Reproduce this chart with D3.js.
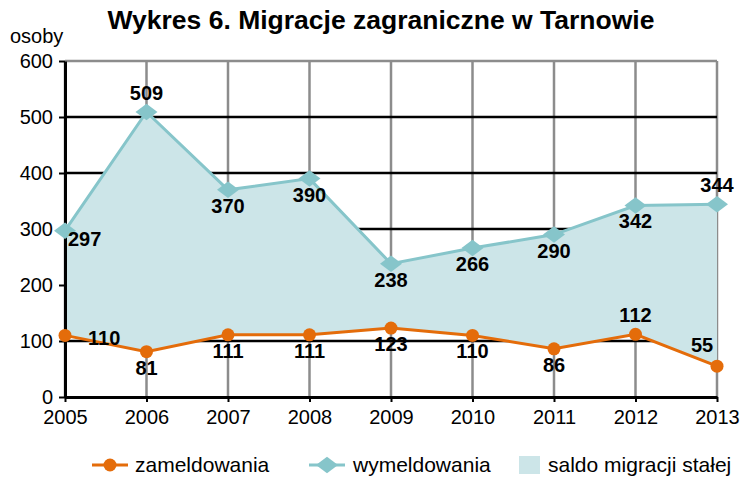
<!DOCTYPE html>
<html>
<head>
<meta charset="utf-8">
<script src="https://cdn.jsdelivr.net/npm/d3@7"></script>
<style>
    body { margin: 0; background: #fff; }
    text { font-family: "Liberation Sans", Arial, sans-serif; }
</style>
</head>
<body>
<script>

//Chart data
var years = [2005, 2006, 2007, 2008, 2009, 2010, 2011, 2012, 2013];
var zameldowania = [110, 81, 111, 111, 123, 110, 86, 112, 55];
var wymeldowania = [297, 509, 370, 390, 238, 266, 290, 342, 344];
var yTicks = [0, 100, 200, 300, 400, 500, 600];

//Where each data label sits: a = above, b = below, r = right, R = further right, l = above left
var zamPlace = ["R", "b", "b", "b", "b", "b", "b", "a", "l"];
var wymPlace = ["r", "a", "b", "b", "b", "b", "b", "b", "a"];

var w = 747;
var h = 479;

var orange = "#e46c0a";
var teal = "#86c5ca";
var fill = "#cce5e8";

//Set up scales
var x = d3.scaleLinear()
    .domain([2005, 2013])
    .range([65, 717]);

var y = d3.scaleLinear()
    .domain([0, 600])
    .range([397, 61]);

var svg = d3.select("body").append("svg")
    .attr("width", w)
    .attr("height", h);

//Title and unit
svg.append("text")
    .attr("x", 381)
    .attr("y", 29)
    .style("font-size", "26.5px")
    .style("font-weight", "bold")
    .style("text-anchor", "middle")
    .text("Wykres 6. Migracje zagraniczne w Tarnowie");

svg.append("text")
    .attr("x", 10)
    .attr("y", 43)
    .style("font-size", "20px")
    .text("osoby");

//Vertical grid lines (grey)
svg.selectAll(".vgrid")
    .data(years)
    .enter()
    .append("line")
    .attr("x1", function(d) { return x(d); })
    .attr("x2", function(d) { return x(d); })
    .attr("y1", y(600))
    .attr("y2", y(0))
    .style("stroke", "#8c8c8c")
    .style("stroke-width", 2.5);

//Horizontal grid lines (black, top one grey)
svg.selectAll(".hgrid")
    .data(yTicks.slice(1))
    .enter()
    .append("line")
    .attr("x1", x(2005))
    .attr("x2", x(2013))
    .attr("y1", function(d) { return y(d); })
    .attr("y2", function(d) { return y(d); })
    .style("stroke", function(d) { return d === 600 ? "#8c8c8c" : "#000"; })
    .style("stroke-width", 2.5);

//Band between the two series
var band = years.map(function(d, i) {
    return { year: d, lo: zameldowania[i], hi: wymeldowania[i] };
});

svg.append("path")
    .datum(band)
    .attr("d", d3.area()
        .x(function(d) { return x(d.year); })
        .y0(function(d) { return y(d.lo); })
        .y1(function(d) { return y(d.hi); }))
    .style("fill", fill);

//Axes
var yAxis = d3.axisLeft(y).tickValues(yTicks).tickSize(6).tickSizeOuter(0).tickPadding(6);
var xAxis = d3.axisBottom(x).tickValues(years).tickFormat(d3.format("d"))
    .tickSize(5).tickSizeOuter(0).tickPadding(8);

var gy = svg.append("g")
    .attr("transform", "translate(" + x(2005) + ",0)")
    .call(yAxis);

var gx = svg.append("g")
    .attr("transform", "translate(0," + y(0) + ")")
    .call(xAxis);

[gx, gy].forEach(function(g) {
    g.select(".domain").style("stroke", "#000").style("stroke-width", 3);
    g.selectAll(".tick line").style("stroke", "#000").style("stroke-width", 2);
    g.selectAll(".tick text")
        .style("font-size", "20px")
        .style("font-family", "Liberation Sans, Arial, sans-serif")
        .style("fill", "#000");
});

//Lines
var line = d3.line()
    .x(function(d, i) { return x(years[i]); })
    .y(function(d) { return y(d); });

svg.append("path")
    .datum(wymeldowania)
    .attr("d", line)
    .style("fill", "none")
    .style("stroke", teal)
    .style("stroke-width", 3);

svg.append("path")
    .datum(zameldowania)
    .attr("d", line)
    .style("fill", "none")
    .style("stroke", orange)
    .style("stroke-width", 3);

//Flat diamond marker, a bit wider than tall
var flatDiamond = {
    draw: function(ctx, size) {
        var a = Math.sqrt(size / 1.45);
        var bx = a, by = a * 0.75;
        ctx.moveTo(-bx, 0);
        ctx.lineTo(0, -by);
        ctx.lineTo(bx, 0);
        ctx.lineTo(0, by);
        ctx.closePath();
    }
};
var diamond = d3.symbol().type(flatDiamond).size(175);

//Markers
svg.selectAll(".wym")
    .data(wymeldowania)
    .enter()
    .append("path")
    .attr("d", diamond)
    .attr("transform", function(d, i) {
        return "translate(" + x(years[i]) + "," + y(d) + ")";
    })
    .style("fill", teal);

svg.selectAll(".zam")
    .data(zameldowania)
    .enter()
    .append("circle")
    .attr("cx", function(d, i) { return x(years[i]); })
    .attr("cy", function(d) { return y(d); })
    .attr("r", 6.5)
    .style("fill", orange);

//Data labels
function addLabels(values, place, cls) {
    svg.selectAll("." + cls)
        .data(values)
        .enter()
        .append("text")
        .attr("x", function(d, i) {
            var p = place[i];
            if (p === "r") return x(years[i]) + 3;
            if (p === "R") return x(years[i]) + 23;
            if (p === "l") return x(years[i]) - 15;
            return x(years[i]);
        })
        .attr("y", function(d, i) {
            var p = place[i];
            if (p === "a") return y(d) - 12;
            if (p === "l") return y(d) - 14;
            if (p === "r") return y(d) + 15;
            if (p === "R") return y(d) + 10;
            return y(d) + 23;
        })
        .style("text-anchor", function(d, i) {
            return (place[i] === "r" || place[i] === "R") ? "start" : "middle";
        })
        .style("font-size", "20px")
        .style("font-weight", "bold")
        .text(function(d) { return d; });
}

addLabels(wymeldowania, wymPlace, "wlab");
addLabels(zameldowania, zamPlace, "zlab");

//Legend
var lg = svg.append("g").attr("transform", "translate(0,465)");

lg.append("line")
    .attr("x1", 92).attr("x2", 128).attr("y1", 0).attr("y2", 0)
    .style("stroke", orange).style("stroke-width", 3);
lg.append("circle")
    .attr("cx", 110).attr("cy", 0).attr("r", 6.5)
    .style("fill", orange);
lg.append("text")
    .attr("x", 135).attr("y", 7)
    .style("font-size", "21px")
    .text("zameldowania");

lg.append("line")
    .attr("x1", 309).attr("x2", 345).attr("y1", 0).attr("y2", 0)
    .style("stroke", teal).style("stroke-width", 3);
lg.append("path")
    .attr("d", diamond)
    .attr("transform", "translate(327,0)")
    .style("fill", teal);
lg.append("text")
    .attr("x", 353).attr("y", 7)
    .style("font-size", "21px")
    .text("wymeldowania");

lg.append("rect")
    .attr("x", 519).attr("y", -9).attr("width", 21).attr("height", 18)
    .style("fill", fill);
lg.append("text")
    .attr("x", 548).attr("y", 7)
    .style("font-size", "21px")
    .text("saldo migracji stałej");

</script>
</body>
</html>
